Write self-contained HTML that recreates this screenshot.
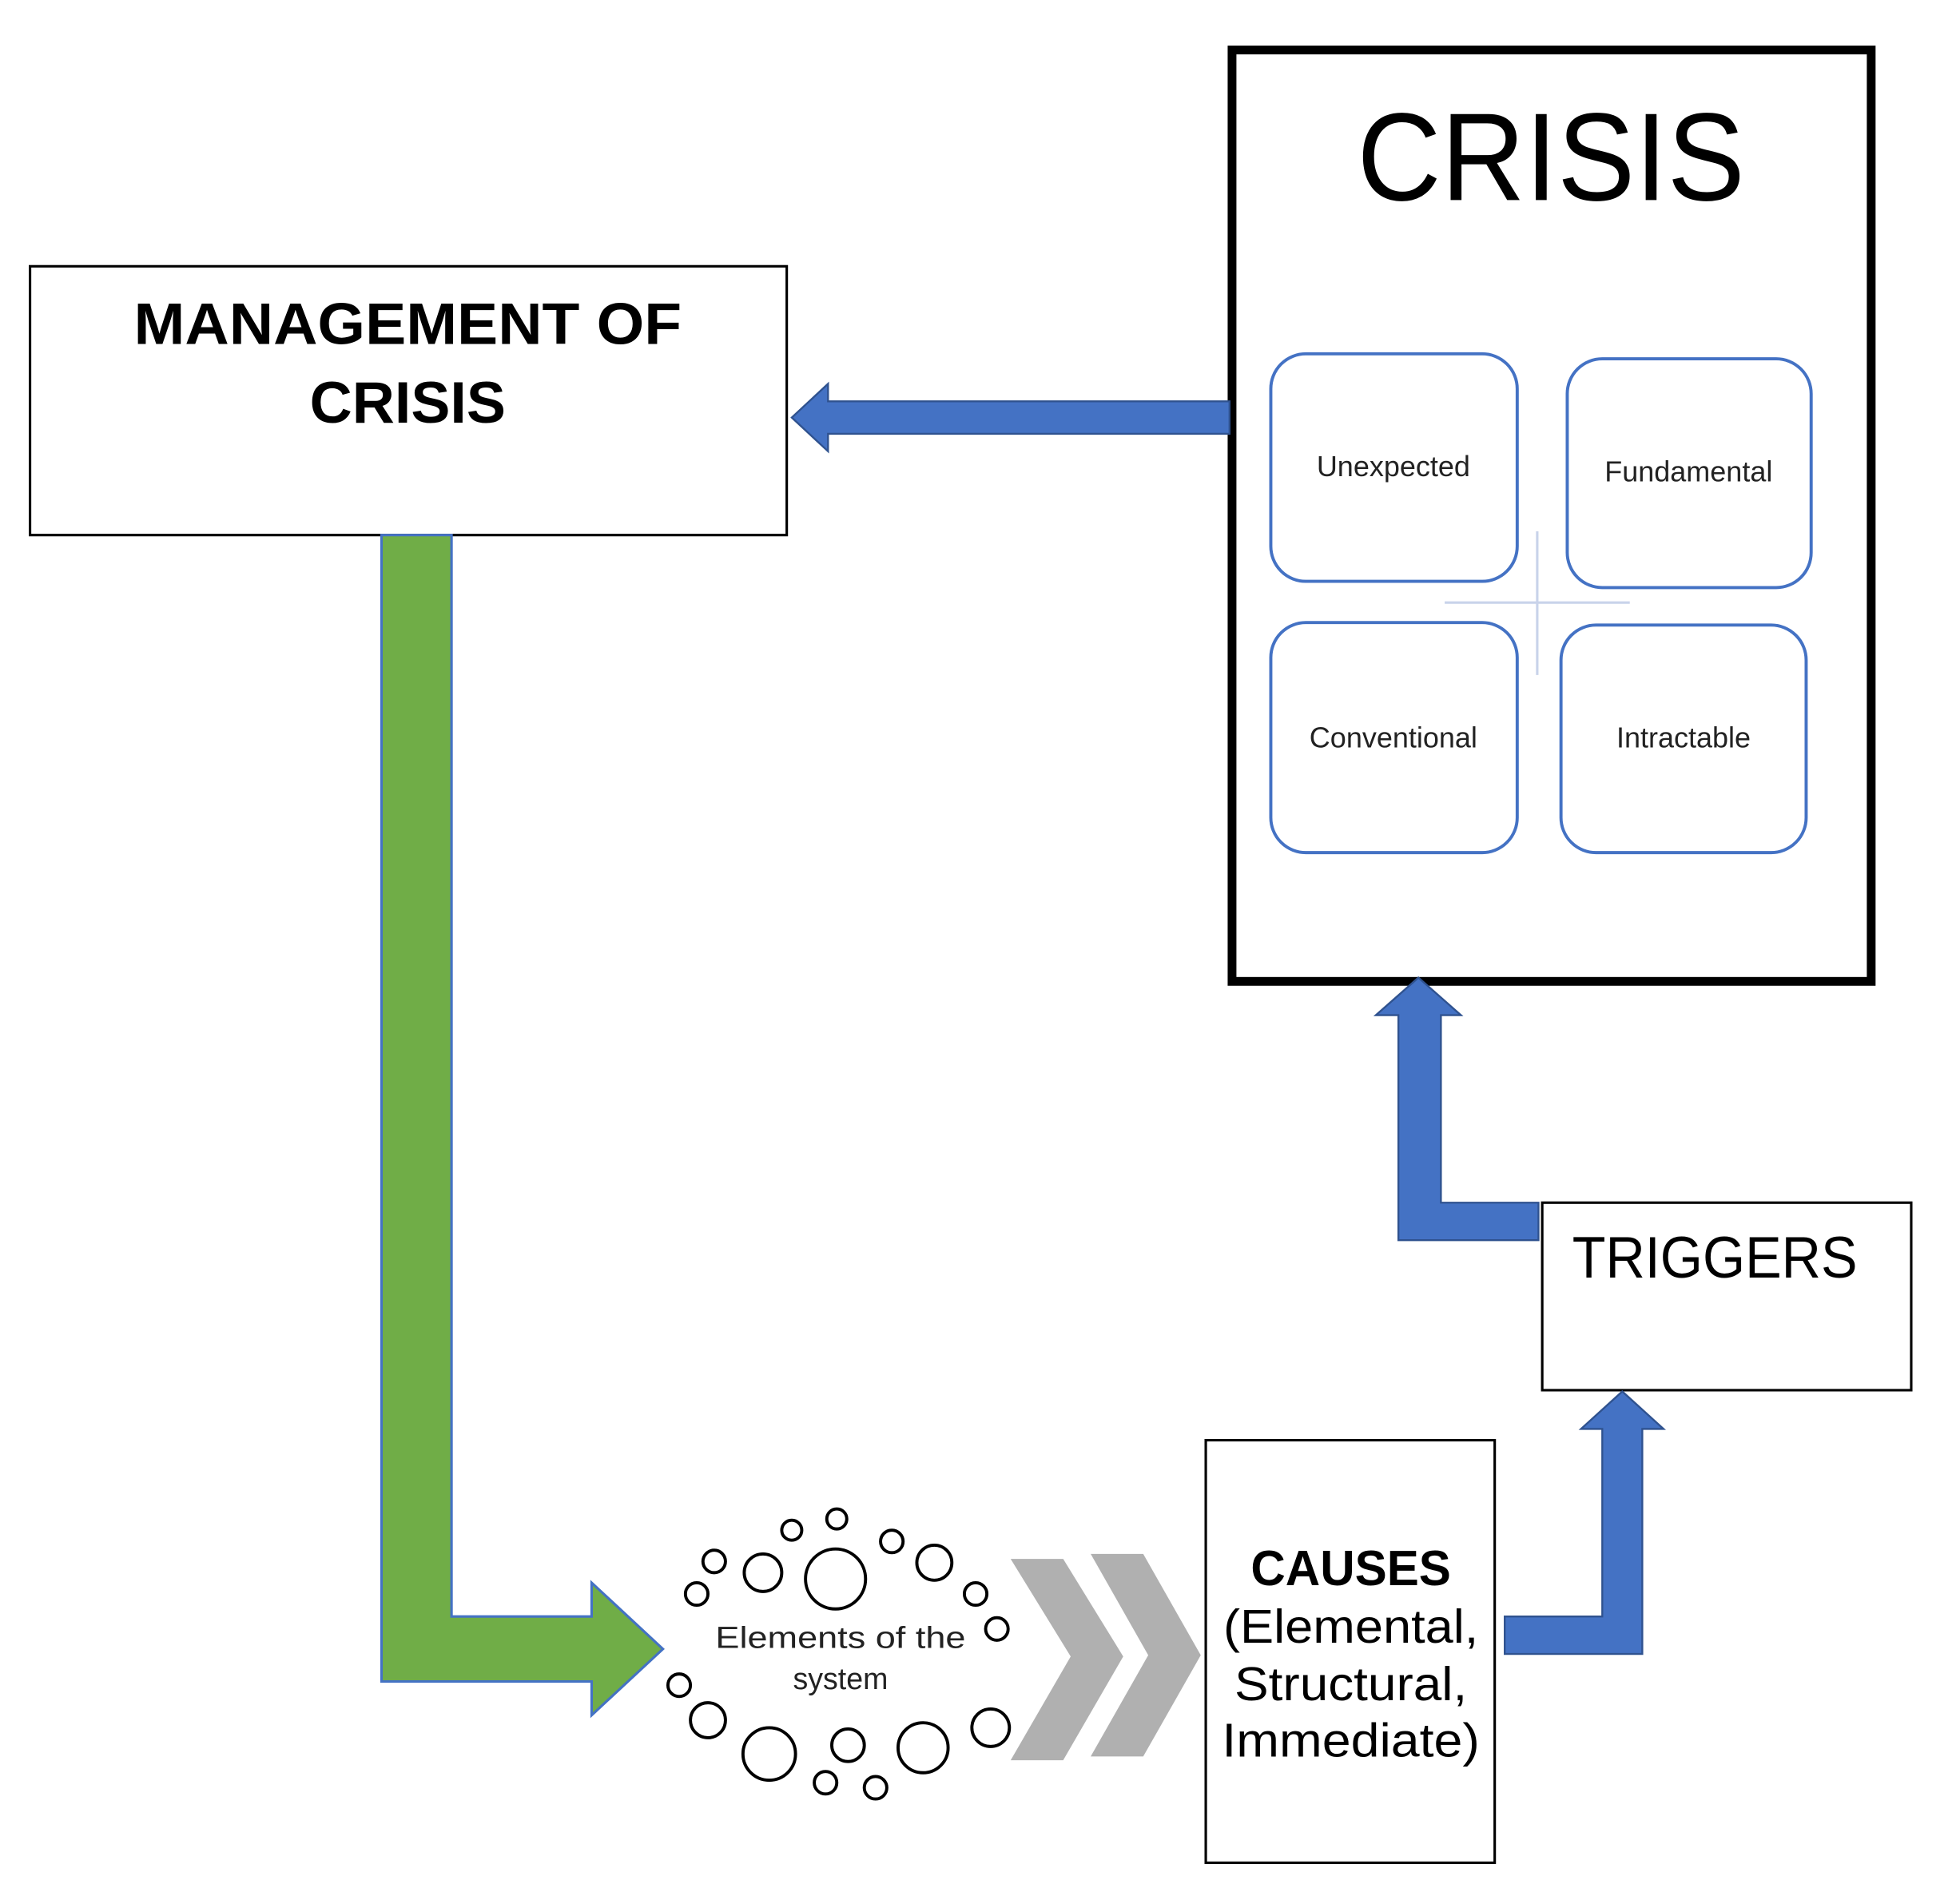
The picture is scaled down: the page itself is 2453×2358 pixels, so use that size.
<!DOCTYPE html>
<html><head><meta charset="utf-8"><style>html,body{margin:0;padding:0;background:#fff}svg{display:block}</style></head>
<body>
<svg width="2453" height="2358" viewBox="0 0 1567 1507" preserveAspectRatio="none" xmlns="http://www.w3.org/2000/svg" font-family="'Liberation Sans', sans-serif">
<rect x="0" y="0" width="1567" height="1507" fill="#fff"/>
<rect x="985" y="40" width="511" height="745" fill="#fff" stroke="#000" stroke-width="7"/>
<text x="1240" y="160" font-size="100" text-anchor="middle" textLength="310" lengthAdjust="spacingAndGlyphs">CRISIS</text>
<g stroke="#c9d3ea" stroke-width="2"><line x1="1229" y1="425" x2="1229" y2="540"/><line x1="1155" y1="482" x2="1303" y2="482"/></g>
<g fill="#fff" stroke="#4472c4" stroke-width="2.5">
<rect x="1016" y="283" width="197" height="182" rx="28"/>
<rect x="1253" y="287" width="195" height="183" rx="28"/>
<rect x="1016" y="498" width="197" height="184" rx="28"/>
<rect x="1248" y="500" width="196" height="182" rx="28"/>
</g>
<g font-size="23" text-anchor="middle" fill="#222">
<text x="1114" y="381">Unexpected</text>
<text x="1350" y="385">Fundamental</text>
<text x="1114" y="598">Conventional</text>
<text x="1346" y="598">Intractable</text>
</g>
<rect x="24" y="213" width="605" height="215" fill="#fff" stroke="#000" stroke-width="2"/>
<g font-size="47" font-weight="bold" text-anchor="middle">
<text x="326" y="275" textLength="438" lengthAdjust="spacingAndGlyphs">MANAGEMENT OF</text>
<text x="326" y="338">CRISIS</text>
</g>
<polygon points="983,321 662,321 662,307 633,334 662,361 662,347 983,347" fill="#4472c4" stroke="#2f528f" stroke-width="1.5"/>
<polygon points="305,428 361,428 361,1293 473,1293 473,1266 530,1319 473,1372 473,1345 305,1345" fill="#70ad47" stroke="#4472c4" stroke-width="2"/>
<polygon points="1230,962 1152,962 1152,812 1168,812 1134,782 1100,812 1118,812 1118,992 1230,992" fill="#4472c4" stroke="#2f528f" stroke-width="1.5"/>
<rect x="1233" y="962" width="295" height="150" fill="#fff" stroke="#000" stroke-width="2"/>
<text x="1257" y="1022" font-size="47" textLength="228" lengthAdjust="spacingAndGlyphs">TRIGGERS</text>
<polygon points="1203,1293 1281,1293 1281,1143 1264,1143 1297,1113 1330,1143 1313,1143 1313,1323 1203,1323" fill="#4472c4" stroke="#2f528f" stroke-width="1.5"/>
<rect x="964" y="1152" width="231" height="338" fill="#fff" stroke="#000" stroke-width="2"/>
<text x="1080" y="1268" font-size="40" font-weight="bold" text-anchor="middle" textLength="160" lengthAdjust="spacingAndGlyphs">CAUSES</text>
<g font-size="38" text-anchor="middle">
<text x="1080" y="1314" textLength="204" lengthAdjust="spacingAndGlyphs">(Elemental,</text>
<text x="1080" y="1360" textLength="186" lengthAdjust="spacingAndGlyphs">Structural,</text>
<text x="1080" y="1405" textLength="206" lengthAdjust="spacingAndGlyphs">Immediate)</text>
</g>
<g fill="#b0b0b0">
<polygon points="808,1247 850,1247 898,1325 850,1408 808,1408 856,1325"/>
<polygon points="872,1243 914,1243 960,1324 914,1405 872,1405 918,1324"/>
</g>
<g fill="none" stroke="#000" stroke-width="2.5">
<circle cx="669" cy="1215" r="8"/><circle cx="633" cy="1224" r="8"/><circle cx="571" cy="1249" r="9"/>
<circle cx="713" cy="1233" r="9"/><circle cx="610" cy="1258" r="15"/><circle cx="668" cy="1263" r="24"/>
<circle cx="747" cy="1250" r="14"/><circle cx="557" cy="1275" r="9"/><circle cx="780" cy="1275" r="9"/>
<circle cx="797" cy="1303" r="9"/><circle cx="543" cy="1348" r="9"/><circle cx="566" cy="1376" r="14"/>
<circle cx="615" cy="1403" r="21"/><circle cx="678" cy="1396" r="13"/><circle cx="738" cy="1398" r="20"/>
<circle cx="792" cy="1382" r="15"/><circle cx="660" cy="1426" r="9"/><circle cx="700" cy="1430" r="9"/>
</g>
<g font-size="24" text-anchor="middle" fill="#222">
<text x="672" y="1318" textLength="200" lengthAdjust="spacingAndGlyphs">Elements of the</text>
<text x="672" y="1351">system</text>
</g>
</svg>
</body></html>
